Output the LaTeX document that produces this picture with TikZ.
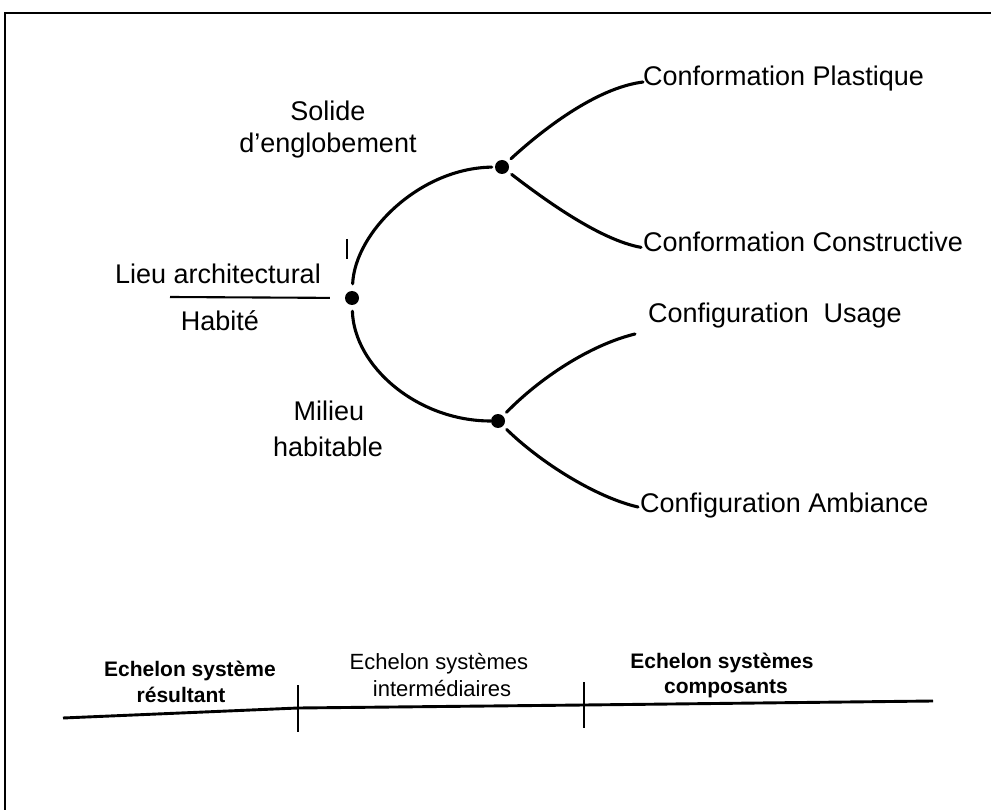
\documentclass[tikz,border=0pt]{standalone}
\usepackage{fontspec}
\setmainfont{Liberation Sans}
\begin{document}
\begin{tikzpicture}[x=1pt,y=-1pt,
  curve/.style={line width=3.1pt, line cap=round},
  thin/.style={line width=2.1pt},
  dot/.style={circle, fill=black, inner sep=0pt, minimum size=14pt},
  lbl/.style={inner sep=0pt, font=\fontsize{27}{32}\selectfont},
  ech/.style={inner sep=0pt, font=\fontsize{22}{26}\selectfont},
  echb/.style={inner sep=0pt, font=\bfseries\fontsize{21}{26}\selectfont}]
\useasboundingbox (0,0) rectangle (991,810);
% frame (cut by the page on the right and bottom)
\draw[line width=2.3pt] (5,810) -- (5,13) -- (991,13);

% dots
\node[dot] (d0) at (352,298) {};
\node[dot] (d1) at (502,167) {};
\node[dot] (d2) at (498,421) {};

% labels
\node[lbl, anchor=base] (sol1) at (328,121) {Solide};
\node[lbl, anchor=base] (sol2) at (328,153) {d’englobement};
\node[lbl, anchor=base] (mil1) at (329,420) {Milieu};
\node[lbl, anchor=base] (mil2) at (328,456) {habitable};
\node[lbl, anchor=base west] (lieu) at (115,284) {Lieu architectural};
\node[lbl, anchor=base] (hab) at (220,331) {Habité};
\node[lbl, anchor=base west] (cp) at (643,86) {Conformation Plastique};
\node[lbl, anchor=base west] (cc) at (643,252) {Conformation Constructive};
\node[lbl, anchor=base west] (cu) at (648,323) {Configuration\hspace{0.55em}Usage};
\node[lbl, anchor=base west] (ca) at (640,512) {Configuration Ambiance};

% main arcs
\draw[curve, shorten <=7pt, shorten >=3pt] (d0) .. controls (355,232) and (420,168) .. (d1);
\draw[curve, shorten <=6pt] (d0) .. controls (354,366) and (417,421) .. (d2);

% branches of the upper dot
\draw[curve, shorten <=5pt] (d1) .. controls (540,132) and (595,88) .. ([yshift=-3pt]cp.west);
\draw[curve, shorten <=5pt] (d1) .. controls (545,200) and (600,240) .. ([yshift=-5pt,xshift=-2pt]cc.west);

% branches of the lower dot
\coordinate (cuend) at (635,334);
\draw[curve, shorten <=5pt] (d2) .. controls (540,378) and (590,345) .. (cuend);
\draw[curve, shorten <=5pt] (d2) .. controls (540,462) and (595,497) .. ([yshift=-2pt,xshift=-2pt]ca.west);

% Lieu architectural / Habite separator
\coordinate (lieul) at (170,297);
\draw[thin, shorten >=15pt] (lieul) -- (d0);
\coordinate (tka) at (347,239);
\coordinate (tkb) at (347,259);
\draw[thin] (tka) -- (tkb);

% bottom scale
\coordinate (b0) at (63,718);
\coordinate (b1) at (298,708);
\coordinate (b2) at (584,705);
\coordinate (b3) at (933,701);
\draw[line width=2.9pt] (b0) -- (b1) -- (b2) -- (b3);
\coordinate (t1a) at (298,685);
\coordinate (t1b) at (298,732);
\coordinate (t2a) at (584,682);
\coordinate (t2b) at (584,728);
\draw[thin] (t1a) -- (t1b);
\draw[thin] (t2a) -- (t2b);

\node[echb, anchor=base] (e1a) at (190,676) {Echelon système};
\node[echb, anchor=base] (e1b) at (181,702) {résultant};
\node[ech, anchor=base] (e2a) at (439,669) {Echelon systèmes};
\node[ech, anchor=base] (e2b) at (442,696) {intermédiaires};
\node[echb, anchor=base] (e3a) at (722,668) {Echelon systèmes};
\node[echb, anchor=base] (e3b) at (726,693) {composants};
\end{tikzpicture}
\end{document}
